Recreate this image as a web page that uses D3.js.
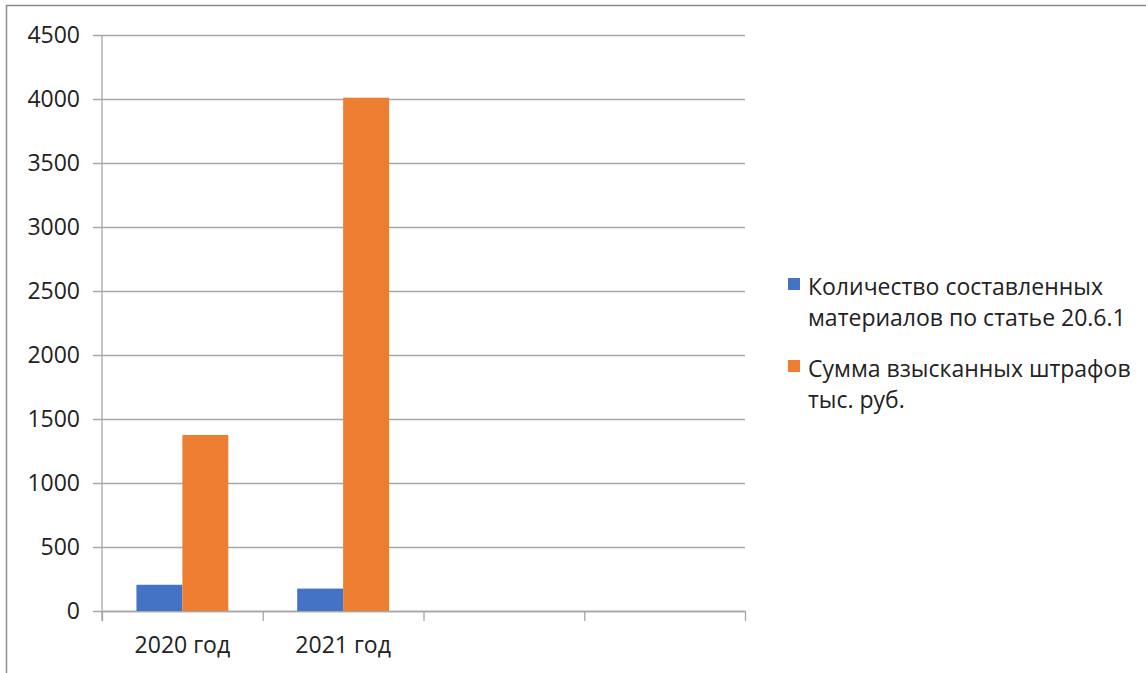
<!DOCTYPE html>
<html>
<head>
<meta charset="utf-8">
<script src="https://cdn.jsdelivr.net/npm/d3@7"></script>
<style>
  body { margin: 0; background: #fff; }
  text { font-family: "Open Sans", Lato, sans-serif; fill: #222; }
</style>
</head>
<body>
<svg id="chart" width="1146" height="673"></svg>
<script>
// data
const categories = ['2020 год', '2021 год', '', '']
const seriesNames = ['Количество составленных материалов по статье 20.6.1', 'Сумма взысканных штрафов тыс. руб.']
const countValues = [205, 175]
const fineValues = [1375, 4010]
const yTicks = [0, 500, 1000, 1500, 2000, 2500, 3000, 3500, 4000, 4500]
const legendLines = [['Количество составленных', 'материалов по статье 20.6.1'], ['Сумма взысканных штрафов', 'тыс. руб.']]

const colors = ['#4472C4', '#ED7D31']
const gridColor = '#a6a6a6'

const svg = d3.select('#chart')
const plotLeft = 102, plotRight = 745, plotTop = 35, plotBottom = 611

// outer frame (only top and left edges show in the picture)
svg.append('rect')
  .attr('x', 6.5).attr('y', 5.5)
  .attr('width', 1200).attr('height', 700)
  .attr('fill', 'none')
  .attr('stroke', '#8c8c8c')
  .attr('stroke-width', 1.5)

const x0 = d3.scaleBand()
  .domain(d3.range(categories.length))
  .range([plotLeft, plotRight])

const x1 = d3.scaleBand()
  .domain([0, 1])
  .range([0, x0.bandwidth()])
  .paddingOuter(0.75)

const y = d3.scaleLinear()
  .domain([0, 4500])
  .range([plotBottom, plotTop])

// gridlines + y labels (gridlines stick out 9px to the left like tick marks)
const yAxis = svg.append('g')
  .attr('transform', `translate(${plotLeft - 9}, 0)`)
  .call(d3.axisLeft(y).tickValues(yTicks).tickFormat(d3.format('d')).tickSize(-(plotRight - plotLeft + 9)).tickPadding(13))
yAxis.select('.domain').remove()
yAxis.selectAll('.tick line').attr('stroke', gridColor).attr('stroke-width', 1.3)
yAxis.selectAll('.tick text').style('font-size', '23px')

// vertical axis line
svg.append('line')
  .attr('x1', plotLeft).attr('x2', plotLeft)
  .attr('y1', y(4500)).attr('y2', plotBottom + 10)
  .attr('stroke', gridColor).attr('stroke-width', 1.3)

// category boundary ticks
const boundary = d3.scaleLinear().domain([0, categories.length]).range([plotLeft, plotRight])
const tickAxis = svg.append('g')
  .attr('transform', `translate(0, ${plotBottom})`)
  .call(d3.axisBottom(boundary).ticks(categories.length).tickFormat('').tickSize(10).tickSizeOuter(0))
tickAxis.selectAll('line, path').attr('stroke', gridColor).attr('stroke-width', 1.3)

// category labels
const xAxis = svg.append('g')
  .attr('transform', `translate(0, ${plotBottom})`)
  .call(d3.axisBottom(x0).tickFormat(i => categories[i]).tickSize(0).tickPadding(26))
xAxis.select('.domain').remove()
xAxis.selectAll('.tick text').style('font-size', '23px')

// bars
const series = [countValues, fineValues]
series.forEach((vals, s) => {
  svg.append('g')
    .selectAll('rect')
    .data(vals)
    .enter()
    .append('rect')
      .attr('x', (d, i) => x0(i) + x1(s))
      .attr('y', d => y(d))
      .attr('width', x1.bandwidth())
      .attr('height', d => y(0) - y(d))
      .attr('fill', colors[s])
})

// handmade legend
const legend = svg.append('g')
legendLines.forEach((lines, s) => {
  const baseY = 295 + s * 82
  legend.append('rect')
    .attr('x', 788).attr('y', baseY - 17)
    .attr('width', 12).attr('height', 12)
    .attr('fill', colors[s])
    .append('title').text(seriesNames[s])
  lines.forEach((t, k) => {
    legend.append('text')
      .attr('x', 808).attr('y', baseY + k * 31)
      .text(t)
      .style('font-size', '23px')
  })
})
</script>
</body>
</html>
